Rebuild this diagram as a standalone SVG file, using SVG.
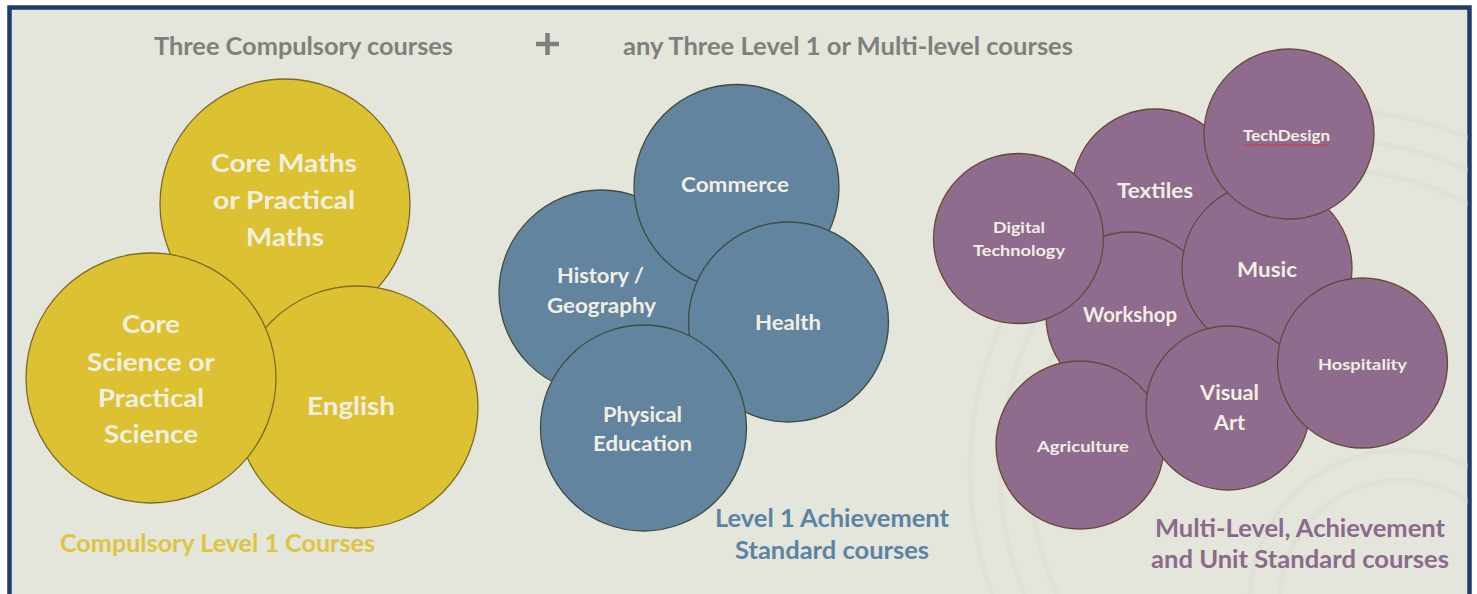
<svg xmlns="http://www.w3.org/2000/svg" width="1477" height="594" viewBox="0 0 1477 594">
<style>
  text { font-family: Lato, "Open Sans", "Liberation Sans", sans-serif; font-weight: bold; text-anchor: middle; }
  .title { fill: #7f7f7d; font-size: 24px; }
  .yl { fill: #dcc53f; font-size: 24px; }
  .bl { fill: #5b83a3; font-size: 24px; }
  .pl { fill: #8b6a8b; font-size: 24px; }
  .lab { fill: #f1efe2; }
  .y { fill: #dcc232; stroke: #7d6b25; stroke-width: 1.3; }
  .b { fill: #62849f; stroke: #3f4d3e; stroke-width: 1.3; }
  .p { fill: #8f6b8e; stroke: #674838; stroke-width: 1.3; }
  .wm { fill: none; stroke: #d8dacf; stroke-width: 5; opacity: 0.4; }
</style>
<defs>
  <clipPath id="frameClip"><rect x="11" y="9" width="1457" height="590"/></clipPath>
</defs>
<rect x="0" y="0" width="1477" height="594" fill="#ffffff"/>
<rect id="frame" x="9.5" y="7.5" width="1460" height="620" fill="#e4e5db" stroke="#213b6b" stroke-width="4.5"/>
<g id="watermark" clip-path="url(#frameClip)">
  <circle class="wm" cx="1330" cy="470" r="300"/>
  <circle class="wm" cx="1330" cy="470" r="330"/>
  <circle class="wm" cx="1330" cy="470" r="360"/>
  <circle class="wm" cx="1400" cy="600" r="120"/>
  <circle class="wm" cx="1400" cy="600" r="150"/>
</g>

<g id="heading">
  <text class="title" x="303.5" y="55" textLength="299" lengthAdjust="spacingAndGlyphs">Three Compulsory courses</text>
  <path id="plus" d="M536 44 H559 M547.5 33 V55" stroke="#7f7f7d" stroke-width="4.5" fill="none"/>
  <text class="title" x="848" y="55" textLength="450" lengthAdjust="spacingAndGlyphs">any Three Level 1 or Multi-level courses</text>
</g>

<g id="compulsory">
  <g id="core-maths">
    <circle class="y" cx="285" cy="204" r="125"/>
    <text class="lab" x="284" y="172" font-size="25" textLength="146" lengthAdjust="spacingAndGlyphs">Core Maths</text>
    <text class="lab" x="284" y="209" font-size="25" textLength="142" lengthAdjust="spacingAndGlyphs">or Practical</text>
    <text class="lab" x="285" y="246" font-size="25" textLength="78" lengthAdjust="spacingAndGlyphs">Maths</text>
  </g>
  <g id="english">
    <circle class="y" cx="357" cy="407" r="121"/>
    <text class="lab" x="351" y="415" font-size="25" textLength="88" lengthAdjust="spacingAndGlyphs">English</text>
  </g>
  <g id="core-science">
    <circle class="y" cx="151" cy="378" r="125"/>
    <text class="lab" x="151" y="333" font-size="25" textLength="58" lengthAdjust="spacingAndGlyphs">Core</text>
    <text class="lab" x="151" y="371" font-size="25" textLength="128" lengthAdjust="spacingAndGlyphs">Science or</text>
    <text class="lab" x="151" y="407" font-size="25" textLength="106" lengthAdjust="spacingAndGlyphs">Practical</text>
    <text class="lab" x="151" y="443" font-size="25" textLength="94" lengthAdjust="spacingAndGlyphs">Science</text>
  </g>
  <text class="yl" x="217.5" y="552" textLength="315" lengthAdjust="spacingAndGlyphs">Compulsory Level 1 Courses</text>
</g>

<g id="achievement">
  <g id="history-geography">
    <circle class="b" cx="601" cy="292" r="102"/>
    <text class="lab" x="600.5" y="283" font-size="21" textLength="87" lengthAdjust="spacingAndGlyphs">History /</text>
    <text class="lab" x="601.5" y="313" font-size="21" textLength="109" lengthAdjust="spacingAndGlyphs">Geography</text>
  </g>
  <g id="commerce">
    <circle class="b" cx="736.5" cy="187" r="102.5"/>
    <text class="lab" x="735" y="192" font-size="21" textLength="108" lengthAdjust="spacingAndGlyphs">Commerce</text>
  </g>
  <g id="health">
    <circle class="b" cx="788.5" cy="322" r="100"/>
    <text class="lab" x="788" y="330" font-size="21" textLength="66" lengthAdjust="spacingAndGlyphs">Health</text>
  </g>
  <g id="physical-education">
    <circle class="b" cx="643.5" cy="428" r="103"/>
    <text class="lab" x="642.5" y="422" font-size="21" textLength="79" lengthAdjust="spacingAndGlyphs">Physical</text>
    <text class="lab" x="642.5" y="451" font-size="21" textLength="99" lengthAdjust="spacingAndGlyphs">Education</text>
  </g>
  <text class="bl" x="832" y="527" textLength="234" lengthAdjust="spacingAndGlyphs">Level 1 Achievement</text>
  <text class="bl" x="832" y="559" textLength="194" lengthAdjust="spacingAndGlyphs">Standard courses</text>
</g>

<g id="multilevel">
  <g id="textiles">
    <circle class="p" cx="1155" cy="192" r="83"/>
    <text class="lab" x="1155" y="198" font-size="21" textLength="76" lengthAdjust="spacingAndGlyphs">Textiles</text>
  </g>
  <g id="workshop">
    <circle class="p" cx="1130" cy="316" r="84"/>
    <text class="lab" x="1130" y="322" font-size="20" textLength="94" lengthAdjust="spacingAndGlyphs">Workshop</text>
  </g>
  <g id="digital-technology">
    <circle class="p" cx="1018.5" cy="238.5" r="85"/>
    <text class="lab" x="1019" y="233" font-size="16" textLength="52" lengthAdjust="spacingAndGlyphs">Digital</text>
    <text class="lab" x="1019" y="256" font-size="16" textLength="92" lengthAdjust="spacingAndGlyphs">Technology</text>
  </g>
  <g id="music">
    <circle class="p" cx="1267" cy="268" r="85"/>
    <text class="lab" x="1267" y="277" font-size="21" textLength="60" lengthAdjust="spacingAndGlyphs">Music</text>
  </g>
  <g id="techdesign">
    <circle class="p" cx="1289" cy="134" r="85"/>
    <text class="lab" x="1286.5" y="141" font-size="16" textLength="87" lengthAdjust="spacingAndGlyphs">TechDesign</text>
    <path d="M1243 145 q1.5 -2 3 0 t3 0 t3 0 t3 0 t3 0 t3 0 t3 0 t3 0 t3 0 t3 0 t3 0 t3 0 t3 0 t3 0 t3 0 t3 0 t3 0 t3 0 t3 0 t3 0 t3 0 t3 0 t3 0 t3 0 t3 0 t3 0 t3 0 t3 0 t3 0" fill="none" stroke="#d0304a" stroke-width="1"/>
  </g>
  <g id="agriculture">
    <circle class="p" cx="1080" cy="445" r="84"/>
    <text class="lab" x="1083" y="452" font-size="16" textLength="92" lengthAdjust="spacingAndGlyphs">Agriculture</text>
  </g>
  <g id="visual-art">
    <circle class="p" cx="1228" cy="408" r="82"/>
    <text class="lab" x="1229.5" y="400" font-size="21" textLength="59" lengthAdjust="spacingAndGlyphs">Visual</text>
    <text class="lab" x="1229.5" y="430" font-size="21" textLength="31" lengthAdjust="spacingAndGlyphs">Art</text>
  </g>
  <g id="hospitality">
    <circle class="p" cx="1362.5" cy="363" r="85"/>
    <text class="lab" x="1362.5" y="370" font-size="16" textLength="89" lengthAdjust="spacingAndGlyphs">Hospitality</text>
  </g>
  <text class="pl" x="1300" y="537" textLength="290" lengthAdjust="spacingAndGlyphs">Multi-Level, Achievement</text>
  <text class="pl" x="1300" y="568" textLength="298" lengthAdjust="spacingAndGlyphs">and Unit Standard courses</text>
</g>
<g id="connectors"/>
</svg>
